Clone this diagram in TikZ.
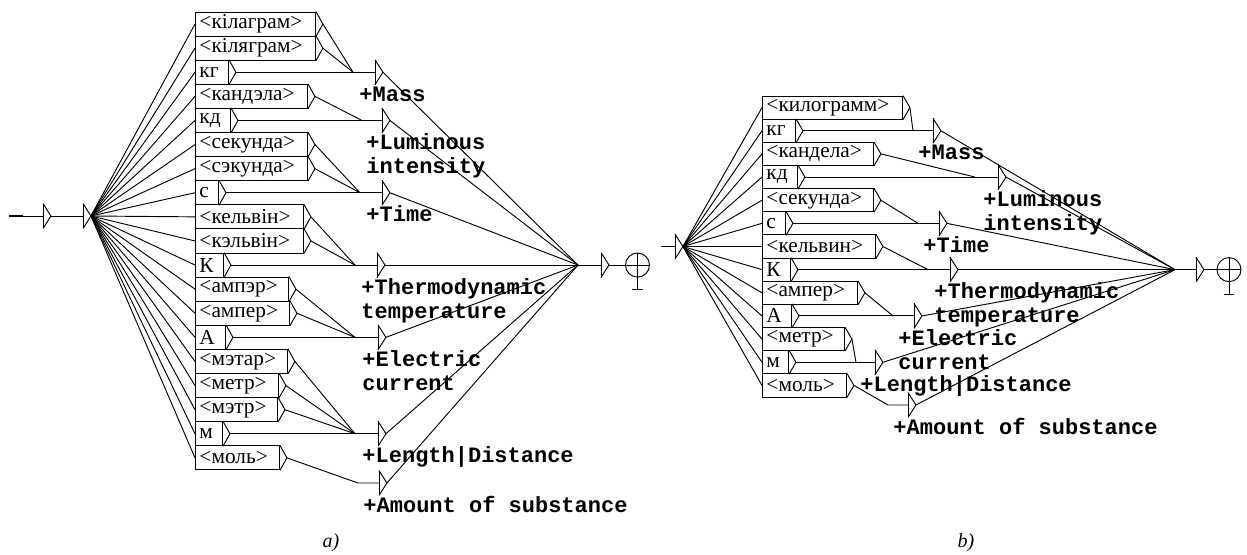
\documentclass[tikz,border=0pt]{standalone}
\usepackage{fontspec}
\setmainfont{Liberation Serif}
\newfontfamily\lblfont{Liberation Mono}
\begin{document}
\begin{tikzpicture}[x=0.75pt, y=-0.75pt, line width=0.7pt,
    lexbox/.style={draw, anchor=west, inner xsep=3pt, inner ysep=0pt, align=left,
        font=\fontsize{16}{18}\selectfont,
        append after command={(\tikzlastnode.north east) edge ([xshift=5.25pt]\tikzlastnode.east)
            ([xshift=5.25pt]\tikzlastnode.east) edge (\tikzlastnode.south east)}},
    cella/.style={lexbox, minimum height=18.1pt, text width=#1},
    cellb/.style={lexbox, minimum height=17.4pt, text width=#1},
    eps/.style={minimum width=5.25pt, minimum height=18pt, inner sep=0pt, anchor=west,
        append after command={(\tikzlastnode.north west) edge (\tikzlastnode.south west)
            (\tikzlastnode.north west) edge (\tikzlastnode.east)
            (\tikzlastnode.east) edge (\tikzlastnode.south west)}},
    fin/.style={circle, draw, minimum size=18pt, inner sep=0pt,
        append after command={(\tikzlastnode.north) edge ([yshift=-9pt]\tikzlastnode.south)
            (\tikzlastnode.west) edge (\tikzlastnode.east)
            ([xshift=-4pt,yshift=-9pt]\tikzlastnode.south) edge ([xshift=4pt,yshift=-9pt]\tikzlastnode.south)}},
    outlbl/.style={anchor=base west, align=left, inner sep=0pt,
        font=\lblfont\bfseries\fontsize{16.5}{18}\selectfont},
    sublbl/.style={font=\itshape\fontsize{15}{18}\selectfont}
]
\useasboundingbox (0,0) rectangle (1247,554);

% a) Belarusian graph
\coordinate (aIn) at (9,216);
\coordinate (aIn2) at (23,216);
\node[eps] (aE1) at (43,216) {};
\node[eps] (aE2) at (83,216) {};

\node[cella=84pt]    (a1)  at (195,24.05)  {<кілаграм>};
\node[cella=84pt]    (a2)  at (195,48.15)  {<кілягрaм>};
\node[cella=18.75pt] (a3)  at (195,72.25)  {кг};
\node[cella=78pt]    (a4)  at (195,96.35)  {<кандэла>};
\node[cella=20.25pt] (a5)  at (195,120.45) {кд};
\node[cella=78pt]    (a6)  at (195,144.55) {<секунда>};
\node[cella=78pt]    (a7)  at (195,168.65) {<сэкунда>};
\node[cella=11.25pt] (a8)  at (195,192.75) {с};
\node[cella=75pt]    (a9)  at (195,216.85) {<кельвін>};
\node[cella=75pt]    (a10) at (195,240.95) {<кэльвін>};
\node[cella=15pt]    (a11) at (195,265.05) {К};
\node[cella=63.75pt] (a12) at (195,289.15) {<ампэр>};
\node[cella=64.5pt]  (a13) at (195,313.25) {<ампер>};
\node[cella=16.5pt]  (a14) at (195,337.35) {А};
\node[cella=63pt]    (a15) at (195,361.45) {<мэтар>};
\node[cella=56.25pt] (a16) at (195,385.55) {<метр>};
\node[cella=55.5pt]  (a17) at (195,409.65) {<мэтр>};
\node[cella=14.25pt] (a18) at (195,433.75) {м};
\node[cella=57pt]    (a19) at (195,457.85) {<моль>};

\coordinate (aMassM) at (353,72.25);
\coordinate (aLumM)  at (362,120.45);
\coordinate (aTimeM) at (360,192.75);
\coordinate (aTempM) at (355,265.05);
\coordinate (aCurM)  at (355,337.35);
\coordinate (aLenM)  at (355,433.75);
\coordinate (aAmtM)  at (358,483);

\node[eps] (aMass) at (375,72.25)  {};
\node[eps] (aLum)  at (382,120.45) {};
\node[eps] (aTime) at (382,192.75) {};
\node[eps] (aTemp) at (377,265.05) {};
\node[eps] (aCur)  at (378,337.35) {};
\node[eps] (aLen)  at (378,433.75) {};
\node[eps] (aAmt)  at (379,483)    {};

\node[outlbl] (aMassL) at (359,101)    {+Mass};
\node[outlbl] (aLumL)  at (366,173.5)  {+Luminous\\intensity};
\node[outlbl] (aTimeL) at (366,221.75) {+Time};
\node[outlbl] (aTempL) at (361,318)    {+Thermodynamic\\temperature};
\node[outlbl] (aCurL)  at (362,390.35) {+Electric\\current};
\node[outlbl] (aLenL)  at (362,462.75) {+Length|Distance};
\node[outlbl] (aAmtL)  at (363,512)    {+Amount of substance};

\coordinate (aFin) at (578,265.05);
\node[eps] (aOut) at (601,265.05) {};
\node[fin] (aEnd) at (637.5,265.05) {};

\draw[line width=2.2pt] (aIn) -- (aIn2);
\draw (aIn2) -- (aE1);
\draw (aE1.east) -- (aE2);
\foreach \i in {1,...,19} \draw (aE2.east) -- (a\i.west);

\foreach \i in {1,2} \draw ([xshift=5.25pt]a\i.east) -- (aMassM);
\draw ([xshift=5.25pt]a3.east) -- (aMass);
\draw ([xshift=5.25pt]a4.east) -- (aLumM);
\draw ([xshift=5.25pt]a5.east) -- (aLum);
\foreach \i in {6,7} \draw ([xshift=5.25pt]a\i.east) -- (aTimeM);
\draw ([xshift=5.25pt]a8.east) -- (aTime);
\foreach \i in {9,10} \draw ([xshift=5.25pt]a\i.east) -- (aTempM);
\draw ([xshift=5.25pt]a11.east) -- (aTemp);
\foreach \i in {12,13} \draw ([xshift=5.25pt]a\i.east) -- (aCurM);
\draw ([xshift=5.25pt]a14.east) -- (aCur);
\foreach \i in {15,16,17} \draw ([xshift=5.25pt]a\i.east) -- (aLenM);
\draw ([xshift=5.25pt]a18.east) -- (aLen);
\draw ([xshift=5.25pt]a19.east) -- (aAmtM) -- (aAmt);

\foreach \t in {aMass,aLum,aTime,aTemp,aCur,aLen,aAmt} \draw (\t.east) -- (aFin);
\draw (aFin) -- (aOut);
\draw (aOut.east) -- (aEnd);

\node[sublbl] (capA) at (331,543) {a)};

% b) Russian graph
\coordinate (bIn) at (661,246.5);
\node[eps] (bE1) at (675,246.5) {};

\node[cellb=99pt]    (b1)  at (762,107.6)  {<килограмм>};
\node[cellb=18.75pt] (b2)  at (762,130.75) {кг};
\node[cellb=77.25pt] (b3)  at (762,153.9)  {<кандела>};
\node[cellb=20.25pt] (b4)  at (762,177.05) {кд};
\node[cellb=77.25pt] (b5)  at (762,200.2)  {<секунда>};
\node[cellb=11.25pt] (b6)  at (762,223.35) {с};
\node[cellb=78.75pt] (b7)  at (762,246.5)  {<кельвин>};
\node[cellb=15pt]    (b8)  at (762,269.65) {К};
\node[cellb=65.25pt] (b9)  at (762,292.8)  {<ампер>};
\node[cellb=15.75pt] (b10) at (762,315.95) {А};
\node[cellb=55.5pt]  (b11) at (762,339.1)  {<метр>};
\node[cellb=13.5pt]  (b12) at (762,362.25) {м};
\node[cellb=57pt]    (b13) at (762,385.4)  {<моль>};

\coordinate (bMassM) at (913,130.75);
\coordinate (bLumM)  at (975,177.05);
\coordinate (bTimeM) at (918,223.35);
\coordinate (bTempM) at (928,269.65);
\coordinate (bCurM)  at (893,315.95);
\coordinate (bLenM)  at (856,362.25);
\coordinate (bAmtM)  at (888,405);

\node[eps] (bMass) at (933,130.75) {};
\node[eps] (bLum)  at (998,177.05) {};
\node[eps] (bTime) at (939,223.35) {};
\node[eps] (bTemp) at (950,269.65) {};
\node[eps] (bCur)  at (914,315.95) {};
\node[eps] (bLen)  at (875,362.25) {};
\node[eps] (bAmt)  at (908,405)    {};

\node[outlbl] (bMassL) at (918,159.75) {+Mass};
\node[outlbl] (bLumL)  at (983,230)    {+Luminous\\intensity};
\node[outlbl] (bTimeL) at (923,252.35) {+Time};
\node[outlbl] (bTempL) at (934,322.65) {+Thermodynamic\\temperature};
\node[outlbl] (bCurL)  at (898,369)    {+Electric\\current};
\node[outlbl] (bLenL)  at (860,391.25) {+Length|Distance};
\node[outlbl] (bAmtL)  at (893,434)    {+Amount of substance};

\coordinate (bFin) at (1175,269.65);
\node[eps] (bOut) at (1196,269.65) {};
\node[fin] (bEnd) at (1229,269.65) {};

\draw (bIn) -- (bE1);
\foreach \i in {1,...,13} \draw (bE1.east) -- (b\i.west);

\draw ([xshift=5.25pt]b1.east) -- (bMassM);
\draw ([xshift=5.25pt]b2.east) -- (bMass);
\draw ([xshift=5.25pt]b3.east) -- (bLumM);
\draw ([xshift=5.25pt]b4.east) -- (bLum);
\draw ([xshift=5.25pt]b5.east) -- (bTimeM);
\draw ([xshift=5.25pt]b6.east) -- (bTime);
\draw ([xshift=5.25pt]b7.east) -- (bTempM);
\draw ([xshift=5.25pt]b8.east) -- (bTemp);
\draw ([xshift=5.25pt]b9.east) -- (bCurM);
\draw ([xshift=5.25pt]b10.east) -- (bCur);
\draw ([xshift=5.25pt]b11.east) -- (bLenM);
\draw ([xshift=5.25pt]b12.east) -- (bLen);
\draw ([xshift=5.25pt]b13.east) -- (bAmtM) -- (bAmt);

\foreach \t in {bMass,bLum,bTime,bTemp,bCur,bLen,bAmt} \draw (\t.east) -- (bFin);
\draw (bFin) -- (bOut);
\draw (bOut.east) -- (bEnd);

\node[sublbl] (capB) at (966,543) {b)};

\end{tikzpicture}
\end{document}
